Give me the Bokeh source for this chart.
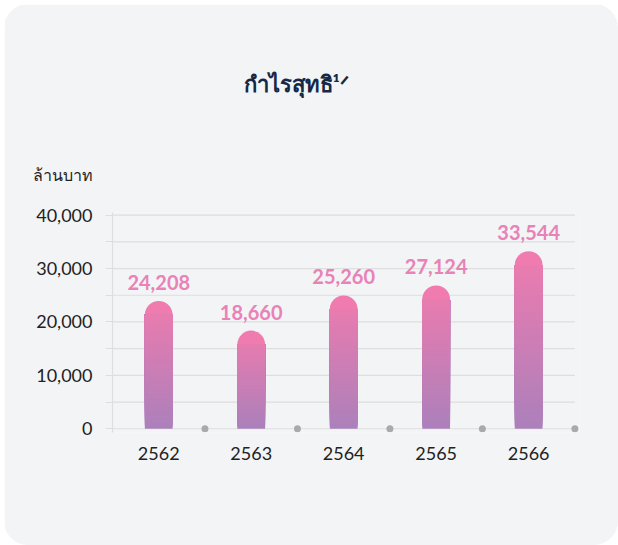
from bokeh.plotting import figure
from bokeh.models import Range1d, FixedTicker, Title
from bokeh.core.properties import value
from bokeh.embed import file_html
from bokeh.resources import INLINE

# ---- data ----
years = ["2562", "2563", "2564", "2565", "2566"]
profits = [24208, 18660, 25260, 27124, 33544]
y_label_ticks = [0, 10000, 20000, 30000, 40000]
y_grid_ticks = [0, 5000, 10000, 15000, 20000, 25000, 30000, 35000, 40000]
title_text = "กำไรสุทธิ¹ᐟ"
unit_text = "ล้านบาท"

# ---- style ----
CARD = "#f3f4f6"
GRID = "#dedede"
TOP_C = "#f07bae"
BOT_C = "#ab80bb"
LABEL_C = "#e982b7"
TEXT_C = "#222222"
TITLE_C = "#152846"
FONT = "Lato"
BAR_W = 0.30
FRAME_W, FRAME_H = 467, 220
X_END = 5.05
Y_START, Y_END = -700, 40500
PX_Y = FRAME_H / (Y_END - Y_START)
PX_X = FRAME_W / X_END


def hex2rgb(h):
    h = h.lstrip("#")
    return tuple(int(h[i:i + 2], 16) for i in (0, 2, 4))


def mix(c0, c1, t):
    a, b = hex2rgb(c0), hex2rgb(c1)
    return "#%02x%02x%02x" % tuple(round(a[i] + (b[i] - a[i]) * t) for i in range(3))


p = figure(width=614, height=541,
           x_range=Range1d(0, X_END), y_range=Range1d(Y_START, Y_END),
           output_backend="svg", toolbar_location=None,
           min_border_left=108, min_border_right=614 - 108 - FRAME_W,
           min_border_top=208, min_border_bottom=541 - 208 - FRAME_H,
           background_fill_color=CARD, border_fill_color=CARD,
           outline_line_color=None, title=None)
p.margin = (4, 0, 0, 4)
p.styles = {"border-radius": "24px", "overflow": "hidden"}

p.xgrid.visible = False
p.ygrid.visible = False

# gridlines
p.segment(x0=[0] * len(y_grid_ticks), x1=[5] * len(y_grid_ticks),
          y0=y_grid_ticks, y1=y_grid_ticks, line_color=GRID, line_width=1.2)

# bars with vertical gradient + rounded top
cx = [i + 0.5 for i in range(len(years))]
r_px = BAR_W * PX_X / 2
r_data = r_px / PX_Y
drop = 1.5 / PX_Y
N = 60
xs, bots, tops, cols = [], [], [], []
for x, v in zip(cx, profits):
    body_top = v - drop - r_data
    for k in range(N):
        b = body_top * k / N
        t = body_top * (k + 1) / N
        xs.append(x)
        bots.append(b)
        tops.append(body_top)
        cols.append(mix(BOT_C, TOP_C, ((b + t) / 2) / v))
p.scatter(x=cx, y=[v - drop - r_data for v in profits], size=2 * r_px,
          marker="circle", fill_color=TOP_C, line_color=None)
p.vbar(x=xs, bottom=bots, top=tops, width=BAR_W, fill_color=cols, line_color=None)

# separator dots
p.scatter(x=[1, 2, 3, 4, 5], y=[0] * 5, size=7, marker="circle",
          fill_color="#aaaaaa", line_color=None)

# value labels
p.text(x=cx, y=profits, text=[f"{v:,}" for v in profits], y_offset=-17,
       text_align="center", text_baseline="alphabetic",
       text_font=value(FONT), text_font_style="bold", text_font_size="20px",
       text_color=LABEL_C)

# y axis
ya = p.yaxis[0]
ya.ticker = FixedTicker(ticks=y_grid_ticks)
ya.major_label_overrides = {t: (f"{t:,}" if t in y_label_ticks else "") for t in y_grid_ticks}
ya.axis_line_color = GRID
ya.axis_line_width = 1.2
ya.major_tick_line_color = GRID
ya.major_tick_line_width = 1.2
ya.major_tick_in = 0
ya.major_tick_out = 7
ya.minor_tick_line_color = None
ya.major_label_standoff = 13
ya.major_label_text_font = FONT
ya.major_label_text_font_size = "18px"
ya.major_label_text_color = TEXT_C

# x axis
xa = p.xaxis[0]
xa.ticker = FixedTicker(ticks=cx)
xa.major_label_overrides = {c: y for c, y in zip(cx, years)}
xa.axis_line_color = None
xa.major_tick_line_color = None
xa.minor_tick_line_color = None
xa.major_label_standoff = 8
xa.major_label_text_font = FONT
xa.major_label_text_font_size = "18px"
xa.major_label_text_color = TEXT_C

# unit label and title (stacked above the frame)
p.add_layout(Title(text=unit_text, align="left", offset=-80, standoff=58,
                   text_font=FONT, text_font_style="normal",
                   text_font_size="16px", text_color=TEXT_C), "above")
p.add_layout(Title(text=title_text, align="left", offset=131, standoff=73,
                   text_font=FONT, text_font_style="bold",
                   text_font_size="22px", text_color=TITLE_C), "above")

open("out.html", "w").write(file_html(p, INLINE))
